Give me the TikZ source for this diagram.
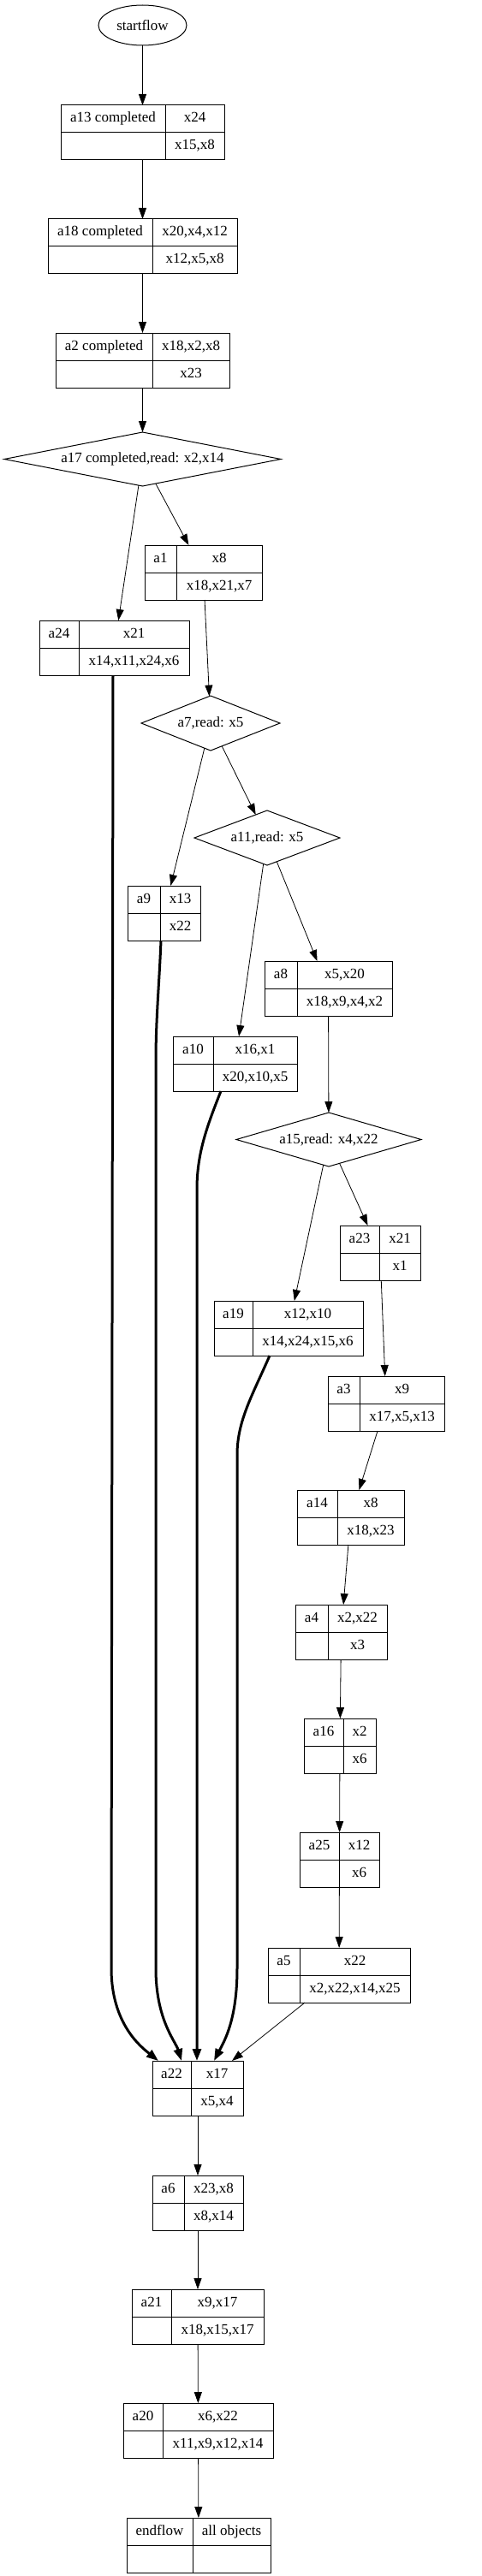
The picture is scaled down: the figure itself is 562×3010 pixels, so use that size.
\documentclass[tikz,border=0pt]{standalone}
\usepackage{fontspec}
\setmainfont{Liberation Serif}
\usetikzlibrary{arrows.meta, shapes.geometric}

% record box: name, left, divider, right, top, label, top cell, bottom cell
\newcommand{\recbox}[8]{%
    \node[rec, minimum width={#4-#2}, anchor=north west] (#1) at (#2,#5) {};
    \draw[cell] (#1.west) -- (#1.east);
    \draw[cell] (#3,#5) -- (#3,#5+64);
    \node[lbl] (#1l) at ({(#2+#3)/2},#5+16) {#6};
    \node[lbl] (#1r) at ({(#3+#4)/2},#5+16) {#7};
    \node[lbl] (#1b) at ({(#3+#4)/2},#5+48) {#8};
}

\begin{document}
\begin{tikzpicture}[x=1pt, y=-1pt,
    rec/.style={draw, line width=1pt, minimum height=64, inner sep=0pt, outer sep=0pt},
    cell/.style={line width=1pt},
    lbl/.style={font=\fontsize{17}{20}\selectfont, inner sep=0pt, text height=11.5pt, text depth=3.5pt},
    cond/.style={draw, diamond, line width=1pt, inner sep=0pt, outer sep=0pt, font=\fontsize{17}{20}\selectfont},
    term/.style={draw, ellipse, line width=1pt, inner sep=0pt, outer sep=0pt, font=\fontsize{17}{20}\selectfont},
    link/.style={line width=0.8pt, -{Triangle[length=13pt, width=9pt]}},
    flow/.style={line width=3pt, -{Triangle[length=14pt, width=10pt]}},
]
    \useasboundingbox (0,0) rectangle (562,3010);

    % Start and completed steps
    \node[term, minimum width=103, minimum height=47] (startflow) at (166.5,29.5) {startflow};
    \recbox{a13}{71}{193}{262}{123}{a13 completed}{x24}{x15,x8}
    \recbox{a18}{56}{178}{277}{256}{a18 completed}{x20,x4,x12}{x12,x5,x8}
    \recbox{a2}{65}{178}{268}{389}{a2 completed}{x18,x2,x8}{x23}

    % Reads
    \node[cond, aspect=5.13, minimum width=323, minimum height=63] (a17) at (166.5,536.5) {a17 completed,read: x2,x14};
    \node[cond, aspect=2.53, minimum width=162, minimum height=64] (a7) at (246,845) {a7,read: x5};
    \node[cond, aspect=2.66, minimum width=170, minimum height=64] (a11) at (312,979) {a11,read: x5};
    \node[cond, aspect=3.43, minimum width=216, minimum height=63] (a15) at (384,1331.5) {a15,read: x4,x22};

    % Branch steps
    \recbox{a1}{169}{206}{306}{637}{a1}{x8}{x18,x21,x7}
    \recbox{a24}{46}{92}{221}{725}{a24}{x21}{x14,x11,x24,x6}
    \recbox{a9}{149}{187}{234}{1035}{a9}{x13}{x22}
    \recbox{a8}{309}{347}{458}{1123}{a8}{x5,x20}{x18,x9,x4,x2}
    \recbox{a10}{202}{249}{347}{1211}{a10}{x16,x1}{x20,x10,x5}
    \recbox{a23}{397}{443}{491}{1432}{a23}{x21}{x1}
    \recbox{a19}{250}{295}{424}{1520}{a19}{x12,x10}{x14,x24,x15,x6}
    \recbox{a3}{383}{420}{519}{1608}{a3}{x9}{x17,x5,x13}
    \recbox{a14}{347}{394}{472}{1741}{a14}{x8}{x18,x23}
    \recbox{a4}{345}{383}{452}{1875}{a4}{x2,x22}{x3}
    \recbox{a16}{355}{401}{439}{2008}{a16}{x2}{x6}
    \recbox{a25}{350}{396}{443}{2141}{a25}{x12}{x6}
    \recbox{a5}{313}{350}{479}{2276}{a5}{x22}{x2,x22,x14,x25}

    % Join and tail
    \recbox{a22}{178}{223}{284}{2408}{a22}{x17}{x5,x4}
    \recbox{a6}{178}{215}{284}{2542}{a6}{x23,x8}{x8,x14}
    \recbox{a21}{154}{200}{308}{2675}{a21}{x9,x17}{x18,x15,x17}
    \recbox{a20}{144}{190}{319}{2808}{a20}{x6,x22}{x11,x9,x12,x14}
    \recbox{endflow}{148}{225}{316}{2942}{endflow}{all objects}{}

    % Edges
    \draw[link] (startflow) -- (a13);
    \draw[link] (a13) -- (a18);
    \draw[link] (a18) -- (a2);
    \draw[link] (a2) -- (a17);
    \draw[link] (a17) -- (a24);
    \draw[link] (a17) -- (a1);
    \draw[link] (a1) -- (a7);
    \draw[link] (a7) -- (a9);
    \draw[link] (a7) -- (a11);
    \draw[link] (a11) -- (a10);
    \draw[link] (a11) -- (a8);
    \draw[link] (a8) -- (a15);
    \draw[link] (a15) -- (a19);
    \draw[link] (a15) -- (a23);
    \draw[link] (a23) -- (a3);
    \draw[link] (a3) -- (a14);
    \draw[link] (a14) -- (a4);
    \draw[link] (a4) -- (a16);
    \draw[link] (a16) -- (a25);
    \draw[link] (a25) -- (a5);
    \draw[link] (a5) -- (a22);
    \draw[link] (a22) -- (a6);
    \draw[link] (a6) -- (a21);
    \draw[link] (a21) -- (a20);
    \draw[link] (a20) -- (endflow);

    % Thick joins into a22
    \draw[flow] ([xshift=-1.5pt]a24.south) -- (130,2300) .. controls (130,2365) and (165,2392) .. ([xshift=-46pt]a22.north);
    \draw[flow] ([xshift=-3.5pt]a9.south) .. controls (186,1150) and (182,1190) .. (182,1240) -- (182,2300) .. controls (182,2360) and (205,2385) .. ([xshift=-19pt]a22.north);
    \draw[flow] ([xshift=-16.5pt]a10.south) .. controls (240,1320) and (230,1350) .. (230,1390) -- ([xshift=-1pt]a22.north);
    \draw[flow] ([xshift=-22pt]a19.south) .. controls (295,1630) and (277,1660) .. (277,1700) -- (277,2300) .. controls (277,2360) and (262,2385) .. ([xshift=19pt]a22.north);
\end{tikzpicture}
\end{document}
